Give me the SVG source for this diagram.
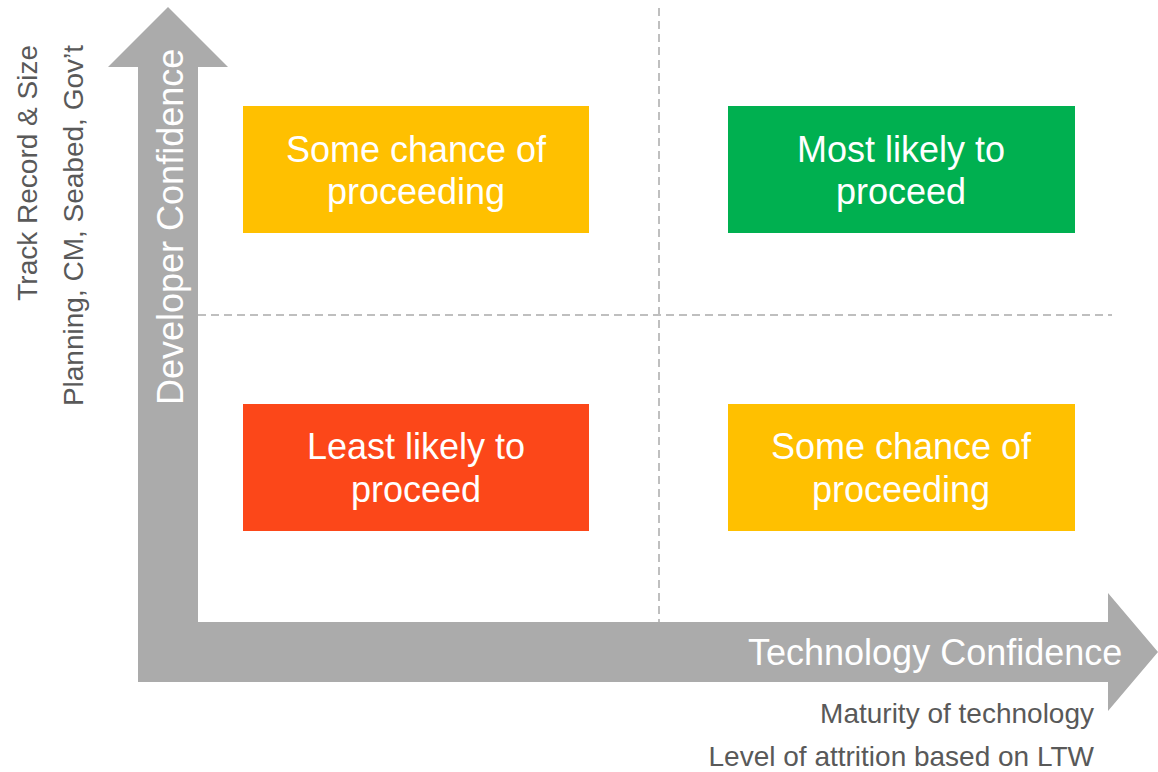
<svg xmlns="http://www.w3.org/2000/svg" width="1158" height="772" viewBox="0 0 1158 772">
<style>
.box-text{font-family:"Liberation Sans",Arial,sans-serif;font-size:36px;fill:#FFFFFF;text-anchor:middle}
.axis-text{font-family:"Liberation Sans",Arial,sans-serif;font-size:36px;fill:#FFFFFF}
.note{font-family:"Liberation Sans",Arial,sans-serif;font-size:28px;fill:#595959}
.grid{stroke:#BFBFBF;stroke-width:2;stroke-dasharray:8 5;fill:none}
</style>
<rect width="1158" height="772" fill="#FFFFFF"/>
<g id="connectors">
  <line class="grid" x1="659" y1="8" x2="659" y2="622"/>
  <line class="grid" x1="198" y1="315" x2="1112" y2="315"/>
  <polygon id="axes" fill="#ABABAB" points="138,682 138,67 108,67 168,7 228,67 198,67 198,622 1108,622 1108,593 1158,652 1108,711 1108,682"/>
</g>
<g id="axis-y">
  <text class="axis-text" transform="translate(183,405) rotate(-90)">Developer Confidence</text>
  <text class="note" text-anchor="end" transform="translate(37,45) rotate(-90)">Track Record &amp; Size</text>
  <text class="note" text-anchor="end" transform="translate(83,45) rotate(-90)">Planning, CM, Seabed, Gov’t</text>
</g>
<g id="axis-x">
  <text class="axis-text" x="748" y="665">Technology Confidence</text>
  <text class="note" text-anchor="end" x="1094" y="723">Maturity of technology</text>
  <text class="note" text-anchor="end" x="1094" y="766">Level of attrition based on LTW</text>
</g>
<g id="node-top-left">
  <rect x="243" y="106" width="346" height="127" fill="#FFC000"/>
  <text class="box-text" x="416" y="162">Some chance of</text>
  <text class="box-text" x="416" y="204">proceeding</text>
</g>
<g id="node-top-right">
  <rect x="728" y="106" width="347" height="127" fill="#00B050"/>
  <text class="box-text" x="901" y="162">Most likely to</text>
  <text class="box-text" x="901" y="204">proceed</text>
</g>
<g id="node-bottom-left">
  <rect x="243" y="404" width="346" height="127" fill="#FC4719"/>
  <text class="box-text" x="416" y="459">Least likely to</text>
  <text class="box-text" x="416" y="502">proceed</text>
</g>
<g id="node-bottom-right">
  <rect x="728" y="404" width="347" height="127" fill="#FFC000"/>
  <text class="box-text" x="901" y="459">Some chance of</text>
  <text class="box-text" x="901" y="502">proceeding</text>
</g>
</svg>
